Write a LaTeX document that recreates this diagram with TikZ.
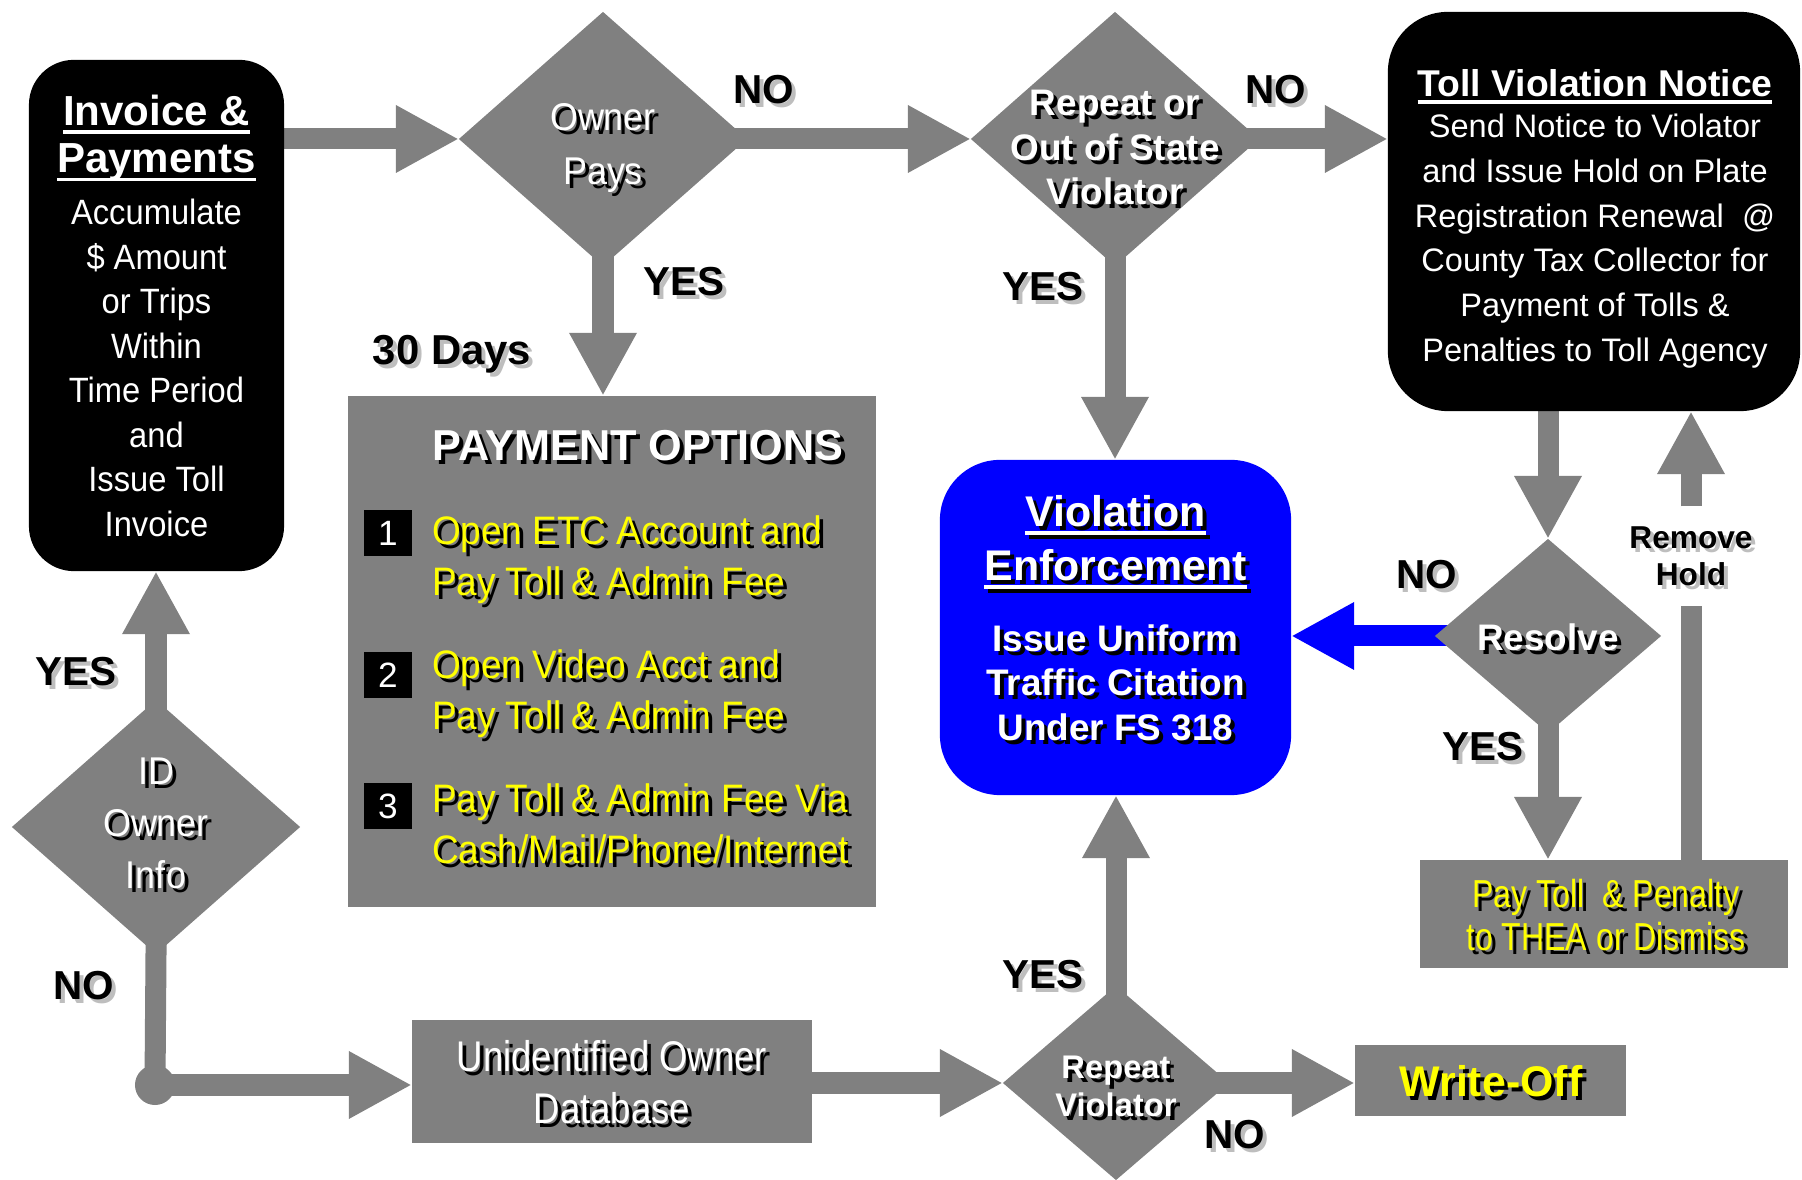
\documentclass[tikz,border=0pt]{standalone}
\usepackage{fontspec}
\setmainfont{Liberation Sans}
\newfontfamily\fA{Liberation Sans}
\newfontfamily\fB[FakeStretch=0.93]{Liberation Sans}
\newfontfamily\fC[FakeStretch=0.85]{Liberation Sans}
\newfontfamily\fD[FakeStretch=0.82]{Liberation Sans}
\usetikzlibrary{arrows.meta,shapes.geometric}
\pgfdeclarelayer{bg}
\pgfsetlayers{bg,main}
\definecolor{fgray}{RGB}{128,128,128}
\definecolor{fblue}{RGB}{0,0,255}
\definecolor{fyellow}{RGB}{255,255,0}
\definecolor{lshadow}{RGB}{190,190,190}
\newcommand\fsz[2]{\fontsize{#1}{#2}\selectfont}
\newbox\ulbox
\newcommand\ulx[1]{\setbox\ulbox=\hbox{#1}\rlap{\rule[-0.2em]{\wd\ulbox}{0.09em}}\box\ulbox}
\newcommand\shnode[5]{%
  \node[#2, text=#4, xshift=0.4mm, yshift=-0.4mm] (#1-sh) at #3 {#5};
  \node[#2] (#1) at #3 {#5};}
\tikzset{
 flow/.style={draw=fgray, line width=2.1mm, -{Triangle[length=6.3mm,width=6.3mm]}},
 flowb/.style={draw=fblue, line width=2.1mm, -{Triangle[length=6.3mm,width=6.3mm]}},
 stem/.style={draw=fgray, line width=2.1mm},
 fromdia/.style={shorten <=-4mm},
 bigdia/.style={diamond, fill=fgray, inner sep=0pt, outer sep=0pt, minimum width=2.88cm, minimum height=2.54cm},
 smalldia/.style={diamond, fill=fgray, inner sep=0pt, outer sep=0pt, minimum width=2.26cm, minimum height=1.94cm},
 graybox/.style={rectangle, fill=fgray, inner sep=0pt, outer sep=0pt},
 blackbox/.style={rectangle, fill=black, inner sep=0pt, outer sep=0pt},
 txt/.style={inner sep=0pt, outer sep=0pt, align=center},
 lbl/.style={txt, font=\fA\bfseries\fsz{11.5pt}{13pt}, text=black},
 numbox/.style={rectangle, fill=black, inner sep=0pt, minimum width=4.8mm, minimum height=4.5mm, text=white, font=\fA\fsz{10pt}{12pt}},
}
\begin{document}
\begin{tikzpicture}[x=0.01cm, y=-0.01cm]
\path[use as bounding box] (0,0) rectangle (1802,1180);

% ---------- shapes ----------
\node[blackbox, rounded corners=4.5mm, minimum width=2.55cm, minimum height=5.11cm] (inv) at (156.5,315.5) {};
\node[blackbox, rounded corners=6mm, minimum width=4.12cm, minimum height=3.99cm] (toll) at (1594,211.5) {};
\node[bigdia] (op) at (603,139) {};
\node[bigdia] (ros) at (1115,139) {};
\node[bigdia] (ido) at (156,827) {};
\node[smalldia] (rv) at (1116,1083) {};
\node[smalldia] (res) at (1548,636) {};
\node[graybox, minimum width=5.28cm, minimum height=5.11cm] (pob) at (612,651.5) {};
\node[graybox, minimum width=4.0cm, minimum height=1.23cm] (udb) at (612,1081.5) {};
\node[graybox, minimum width=2.71cm, minimum height=0.71cm] (wo) at (1490.5,1080.5) {};
\node[graybox, minimum width=3.68cm, minimum height=1.08cm] (pt) at (1604,914) {};
\node[rectangle, rounded corners=6mm, fill=fblue, inner sep=0pt, outer sep=0pt, minimum width=3.51cm, minimum height=3.35cm] (ve) at (1115.5,627.5) {};
\node[circle, fill=fgray, inner sep=0pt, minimum size=4mm] (jn) at (155,1085) {};
\node[inner sep=0pt, minimum width=2mm, minimum height=9.8mm] (rh) at (1691,556) {};

% ---------- connectors ----------
\begin{pgfonlayer}{bg}
\draw[flow] (inv.east |- op.west) -- (op.west);
\draw[flow, fromdia] (op.east) -- (ros.west);
\draw[flow, fromdia] (ros.east) -- (ros.east -| toll.west);
\draw[flow, fromdia] (op.south) -- (op.south |- pob.north);
\draw[flow, fromdia] (ros.south) -- (ros.south |- ve.north);
\draw[flow, fromdia] (ido.north) -- (ido.north |- inv.south);
\draw[stem, fromdia] (ido.south) -- (jn.center);
\draw[flow] (jn.center) -- (jn.center -| udb.west);
\draw[flow] (udb.east |- rv.west) -- (rv.west);
\draw[flow, fromdia] (rv.north) -- (rv.north |- ve.south);
\draw[flow, fromdia] (rv.east) -- (rv.east -| wo.west);
\draw[flow] (res.north |- toll.south) -- (res.north);
\draw[flowb, fromdia] (res.west) -- (res.west -| ve.east);
\draw[flow, fromdia] (res.south) -- (res.south |- pt.north);
\draw[stem] (rh.south |- pt.north) -- (rh.south);
\draw[flow] (rh.north) -- (rh.north |- toll.south);
\end{pgfonlayer}

% ---------- texts ----------
\node[txt, text=white, font=\fA\bfseries\fsz{11.95pt}{13.4pt}] (invh) at (156.5,138.5) {\ulx{Invoice \&}\\\ulx{Payments}};
\node[txt, text=white, font=\fB\fsz{10pt}{12.66pt}] (invb) at (156.5,368) {Accumulate\\\$ Amount\\or Trips\\Within\\Time Period\\and\\Issue Toll\\Invoice};
\node[txt, text=white, font=\fA\bfseries\fsz{10.6pt}{12pt}] (tollh) at (1595,86.5) {\ulx{Toll Violation Notice}};
\node[txt, text=white, font=\fA\fsz{9.25pt}{12.7pt}] (tollb) at (1595,241) {Send Notice to Violator\\and Issue Hold on Plate\\Registration Renewal~~@\\County Tax Collector for\\Payment of Tolls \&\\Penalties to Toll Agency};

\shnode{opt}{txt, text=white, font=\fB\fsz{11pt}{15.4pt}}{(603,148)}{black}{Owner\\Pays}
\shnode{rost}{txt, text=white, font=\fA\bfseries\fsz{10.5pt}{12.7pt}}{(1115,147.5)}{black}{Repeat or\\Out of State\\Violator}
\shnode{pobt}{txt, text=white, font=\fA\bfseries\fsz{12.3pt}{14pt}}{(638,446)}{black}{PAYMENT OPTIONS}

\node[numbox] (n1) at (388,533) {1};
\node[numbox] (n2) at (388,675) {2};
\node[numbox] (n3) at (388,806) {3};
\shnode{o1}{txt, align=left, anchor=west, text=fyellow, font=\fB\fsz{11.3pt}{14.5pt}}{(432,559.5)}{black}{Open ETC Account and\\Pay Toll \& Admin Fee}
\shnode{o2}{txt, align=left, anchor=west, text=fyellow, font=\fB\fsz{11.3pt}{14.5pt}}{(432,693.5)}{black}{Open Video Acct and\\Pay Toll \& Admin Fee}
\shnode{o3}{txt, align=left, anchor=west, text=fyellow, font=\fB\fsz{11.3pt}{14.5pt}}{(432,824)}{black}{Pay Toll \& Admin Fee Via\\Cash/Mail/Phone/Internet}

\shnode{idot}{txt, text=white, font=\fB\fsz{11pt}{14.8pt}}{(156,823)}{black}{ID\\Owner\\Info}
\shnode{udbt}{txt, text=white, font=\fC\fsz{12.2pt}{14.8pt}}{(612,1082.5)}{black}{Unidentified Owner\\Database}
\shnode{rvt}{txt, text=white, font=\fA\bfseries\fsz{9.3pt}{10.8pt}}{(1116,1086)}{black}{Repeat\\Violator}
\shnode{wot}{txt, text=fyellow, font=\fA\bfseries\fsz{12.2pt}{14pt}}{(1491,1081)}{black}{Write-Off}
\shnode{veh}{txt, text=white, font=\fA\bfseries\fsz{12.2pt}{15.4pt}}{(1115.5,542)}{black}{\ulx{Violation}\\\ulx{Enforcement}}
\shnode{veb}{txt, text=white, font=\fA\bfseries\fsz{10.5pt}{12.7pt}}{(1115.5,682.5)}{black}{Issue Uniform\\Traffic Citation\\Under FS 318}
\shnode{rest}{txt, text=white, font=\fA\bfseries\fsz{10.5pt}{12pt}}{(1548,637)}{black}{Resolve}
\shnode{ptt}{txt, text=fyellow, font=\fD\fsz{11.1pt}{12pt}}{(1606,915)}{black}{Pay Toll~~\& Penalty\\to THEA or Dismiss}

% ---------- labels ----------
\shnode{l1}{lbl}{(764,90)}{lshadow}{NO}
\shnode{l2}{lbl}{(1276,90)}{lshadow}{NO}
\shnode{l3}{lbl}{(684,282)}{lshadow}{YES}
\shnode{l4}{lbl, font=\fA\bfseries\fsz{11.9pt}{13pt}}{(452,354)}{lshadow}{30 Days}
\shnode{l5}{lbl}{(1043,287)}{lshadow}{YES}
\shnode{l6}{lbl}{(76,672)}{lshadow}{YES}
\shnode{l7}{lbl}{(84,986)}{lshadow}{NO}
\shnode{l8}{lbl}{(1043,975)}{lshadow}{YES}
\shnode{l9}{lbl}{(1235,1135)}{lshadow}{NO}
\shnode{l10}{lbl}{(1427,575)}{lshadow}{NO}
\shnode{l11}{lbl}{(1483,747)}{lshadow}{YES}
\shnode{rht}{txt, text=black, font=\fA\bfseries\fsz{9pt}{10.5pt}}{(rh.center)}{lshadow}{Remove\\Hold}
\end{tikzpicture}
\end{document}
